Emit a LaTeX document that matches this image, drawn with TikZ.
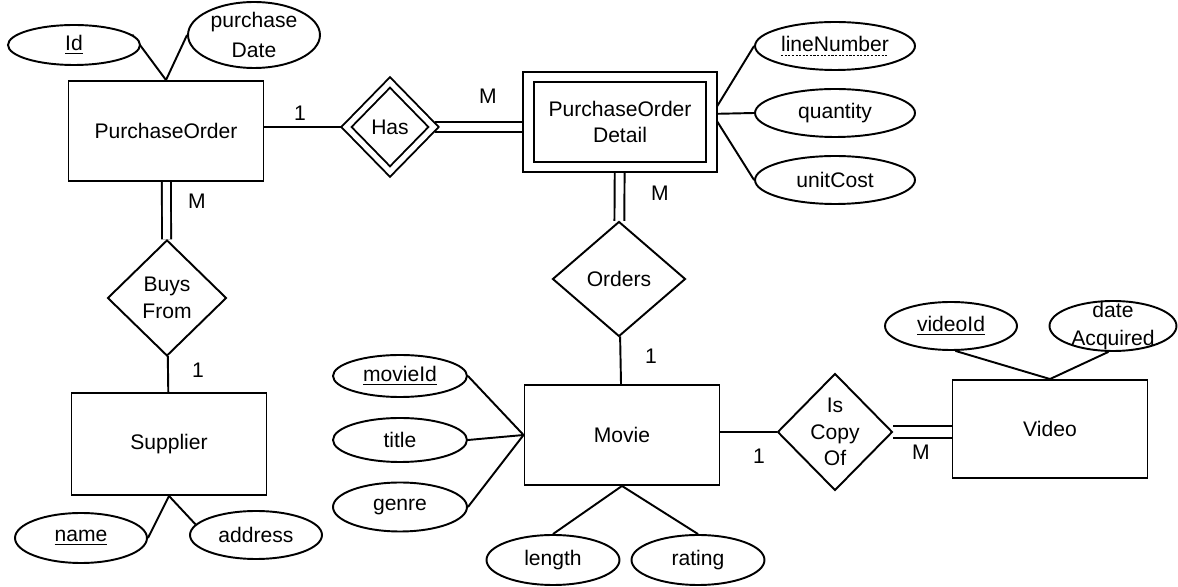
\documentclass[tikz,border=0pt]{standalone}
\usepackage{fontspec}
\setmainfont{Liberation Sans}
\usetikzlibrary{shapes.geometric,backgrounds}
\newsavebox\ulbox
\newcommand\dottedul[1]{\sbox\ulbox{#1}\rlap{\usebox\ulbox}\raisebox{-2.5pt}{\hbox to \wd\ulbox{\xleaders\hbox{\rule{1.2pt}{0.6pt}\hskip0.8pt}\hfill}}}

\begin{document}
\begin{tikzpicture}[x=0.02cm,y=-0.02cm,line width=1.1pt,
    font=\fontsize{12}{15}\selectfont,
    entity/.style={draw,fill=white,inner sep=0,minimum width=3.9cm,minimum height=2cm,align=center},
    weakentity/.style={entity,double,double distance=5pt,minimum width=3.66cm,minimum height=1.8cm},
    rel/.style={draw,fill=white,diamond,aspect=1,inner sep=0,align=center},
    weakrel/.style={rel,double,double distance=3pt},
    attr/.style={draw,fill=white,ellipse,inner sep=0,minimum width=2.64cm,minimum height=0.96cm,align=center},
    conn/.style={line width=1.1pt},
    twoline/.style={conn,double,double distance=4.5pt}]
        \useasboundingbox (0,0) rectangle (1178,587);
        % entities and relationships
        \node[entity] (po) at (166,131) {PurchaseOrder};
        \node[weakrel,minimum width=1.76cm,minimum height=1.8cm] (has) at (390,127) {Has};
        \node[weakentity] (pod) at (620,122) {PurchaseOrder\\Detail};
        \node[rel,minimum width=2.66cm,minimum height=2.3cm] (orders) at (619,279) {Orders};
        \node[entity] (movie) at (622,435) {Movie};
        \node[rel,minimum width=2.3cm,minimum height=2.34cm,inner sep=-3pt] (iscopy) at (835,432) {Is\\Copy\\Of};
        \node[entity,minimum height=1.96cm] (video) at (1050,429) {Video};
        \node[rel,minimum width=2.38cm,minimum height=2.32cm] (buys) at (167,298) {Buys\\From};
        \node[entity,minimum height=2.04cm] (supplier) at (169,444) {Supplier};
        % attributes
        \node[attr,minimum height=0.8cm] (id) at (74,45) {\underline{Id}};
        \node[attr,minimum height=1.32cm,inner sep=-6pt] (pdate) at (254,35) {purchase\\[2pt]Date};
        \node[attr,minimum width=3.2cm] (linenum) at (835,46) {\dottedul{lineNumber}};
        \node[attr,minimum width=3.2cm] (qty) at (835,113) {quantity};
        \node[attr,minimum width=3.2cm] (cost) at (835,180) {unitCost};
        \node[attr,minimum width=2.68cm,minimum height=0.84cm] (movieid) at (400,376) {\underline{movieId}};
        \node[attr,minimum width=2.68cm,minimum height=0.88cm] (title) at (400,440) {title};
        \node[attr,minimum width=2.68cm,minimum height=0.98cm] (genre) at (400,507) {genre};
        \node[attr,minimum width=2.66cm,minimum height=1cm] (length) at (553,560) {length};
        \node[attr,minimum width=2.66cm,minimum height=1cm] (rating) at (698,560) {rating};
        \node[attr] (videoid) at (951,326) {\underline{videoId}};
        \node[attr,minimum width=2.54cm,minimum height=1cm,inner sep=-8pt] (dacq) at (1113,326) {date\\[1pt]Acquired};
        \node[attr,minimum height=1cm] (name) at (81,538) {\underline{name}};
        \node[attr] (address) at (256,535) {address};
        % cardinalities
        \node (c1) at (300,113) {1};
        \node (c2) at (488,96) {M};
        \node (c3) at (660,193) {M};
        \node (c4) at (651,356) {1};
        \node (c5) at (759,456) {1};
        \node (c6) at (921,452) {M};
        \node (c7) at (197,201) {M};
        \node (c8) at (198,370) {1};
        % connectors
        \begin{scope}[on background layer]
        \draw[conn] (has) -- (has -| po);
        \draw[twoline,double distance=5pt] (has) -- (has -| pod);
        \draw[twoline] (pod) -- (orders);
        \draw[conn] (orders) -- (movie);
        \draw[conn] (iscopy) -- (iscopy -| movie);
        \draw[twoline,double distance=5.5pt] (iscopy) -- (iscopy -| video);
        \draw[twoline,double distance=4pt] (po) -- (buys);
        \draw[conn] (buys) -- (supplier);
        \draw[conn] (po.north) -- (id.10);
        \draw[conn] (po.north) -- (pdate.west);
        \draw[conn] (pod.5) -- (linenum.west);
        \draw[conn] (pod.5) -- (qty.west);
        \draw[conn] (pod.5) -- (cost.west);
        \draw[conn] (movie.west) -- (movieid.east);
        \draw[conn] (movie.west) -- (title.east);
        \draw[conn] (movie.west) -- (genre.east);
        \draw[conn] (movie.south) -- (length.north);
        \draw[conn] (movie.south) -- (rating.north);
        \draw[conn] (video.north) -- (videoid.-80);
        \draw[conn] (video.north) -- (dacq.-100);
        \draw[conn] (supplier.south) -- (name.east);
        \draw[conn] (supplier.south) -- (address.170);
        \end{scope}
    \end{tikzpicture}
\end{document}
